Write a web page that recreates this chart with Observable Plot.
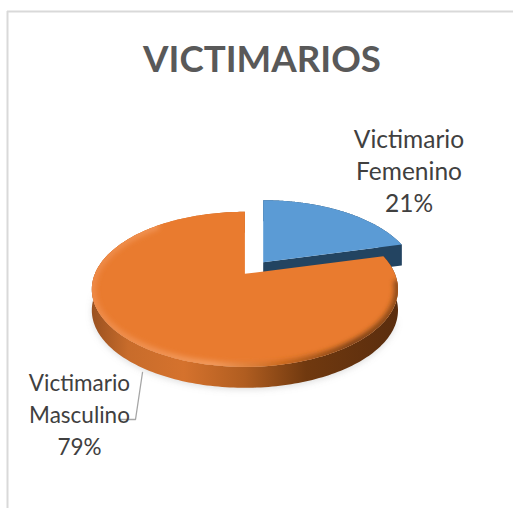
<!DOCTYPE html>
<html><head><meta charset="utf-8">
<script src="https://cdn.jsdelivr.net/npm/d3@7"></script>
<script src="https://cdn.jsdelivr.net/npm/@observablehq/plot@0.6"></script>
<style>html,body{margin:0;padding:0;background:#fff}svg{display:block}</style>
</head><body><script>
const chartTitle = "VICTIMARIOS";
const categories = ["Victimario Femenino", "Victimario Masculino"];
const shares = [21, 79];
const sliceColors = ["#5B9BD5", "#E97B2F"];
const sideColors = ["#234461", "url(#orangeSide)"];

// Perspective view of a flat disc (fractions run clockwise from 12 o'clock)
const radius = 150, squash = 74.4, persp = 0.2, depth = 21;
const apexes = [[262.7, 261.7], [244.4, 273.3]];
const labelAt = [[408.5, 169], [79, 412.5]];
const labelSizes = [24.5, 22.5];
const labelLeading = [1.32, 1.42];
const leader = [[142, 372], [135, 419], [120, 419]];
const frameLeft = 7, frameTop = 11;

function project(frac, apex, r = 1, dy = 0) {
  const t = 2 * Math.PI * frac, u = r * Math.sin(t), v = -r * Math.cos(t), w = 1 - persp * v;
  return [apex[0] + radius * u / w, apex[1] + squash * v / w + dy];
}
const arc = (f0, f1, apex, r = 1, dy = 0) =>
  d3.range(0, 241).map(i => project(f0 + (f1 - f0) * i / 240, apex, r, dy));

const total = d3.sum(shares);
const bounds = [[0, shares[0] / total], [shares[0] / total, 1]];
const faces = bounds.map((b, i) => [apexes[i], ...arc(b[0], b[1], apexes[i])]);
const sides = bounds.map((b, i) => [...arc(b[0], b[1], apexes[i]), ...arc(b[0], b[1], apexes[i], 1, depth).reverse()]);
const blueCut = [apexes[0], project(bounds[0][1], apexes[0]), project(bounds[0][1], apexes[0], 1, depth), [apexes[0][0], apexes[0][1] + depth]];

const defs = () => {
  const s = d3.create("svg:defs");
  const grad = (id, stops) => {
    const g = s.append("linearGradient").attr("id", id);
    stops.forEach(([o, c]) => g.append("stop").attr("offset", o).attr("stop-color", c));
  };
  grad("orangeSide", [[0, "#9A5120"], [0.12, "#C86C2B"], [0.3, "#D5722D"], [0.5, "#B05D20"], [0.7, "#70390F"], [1, "#5A2D0E"]]);
  grad("orangeBevel", [[0, "#EE8A48"], [0.4, "#F29A5C"], [0.62, "#C8691F"], [0.85, "#7A4014"], [1, "#8E4C1A"]]);
  s.append("filter").attr("id", "soft").attr("x", "-10%").attr("y", "-10%").attr("width", "120%").attr("height", "120%")
    .append("feGaussianBlur").attr("stdDeviation", 2.6);
  s.append("filter").attr("id", "shadow").attr("x", "-10%").attr("y", "-20%").attr("width", "120%").attr("height", "140%")
    .append("feGaussianBlur").attr("stdDeviation", 3);
  s.append("clipPath").attr("id", "faceClip").append("polygon")
    .attr("points", faces[1].map(p => p.join(",")).join(" "));
  return s.node();
};
const withAttrs = attrs => (i, sc, v, d, c, next) => {
  const g = next(i, sc, v, d, c);
  for (const k in attrs) g.setAttribute(k, attrs[k]);
  return g;
};
const poly = (pts, options) => Plot.line([...pts, pts[0]], {x: d => d[0], y: d => d[1], stroke: "none", ...options});

const labelMarks = categories.map((c, i) =>
  Plot.text([c.replace(" ", "\n") + "\n" + shares[i] + "%"], {
    x: labelAt[i][0], y: labelAt[i][1], text: d => d,
    fontFamily: "Lato", fontSize: labelSizes[i], lineHeight: labelLeading[i], fill: "#404040"
  }));

const plot = Plot.plot({
  width: 513, height: 508, margin: 0,
  x: {domain: [0, 513], range: [0, 513], axis: null},
  y: {domain: [0, 508], range: [0, 508], axis: null},
  style: {background: "#fff"},
  marks: [
    defs,
    Plot.ruleX([frameLeft], {y1: frameTop, y2: 508, stroke: "#D9D9D9", strokeWidth: 2}),
    Plot.ruleY([frameTop], {x1: frameLeft, x2: 513, stroke: "#D9D9D9", strokeWidth: 2}),
    Plot.text([chartTitle], {x: 261.5, y: 60, text: d => d, fontFamily: "Lato", fontWeight: 700, fontSize: 36.7, fill: "#595959"}),
    poly(arc(0.3, 0.85, apexes[1], 1, depth + 2), {fill: "#999", fillOpacity: 0.3, render: withAttrs({filter: "url(#shadow)"})}),
    // blue slice
    poly(sides[0], {fill: sideColors[0]}),
    poly(blueCut, {fill: sideColors[0]}),
    poly(faces[0], {fill: sliceColors[0]}),
    // orange slice
    poly(sides[1], {fill: sideColors[1]}),
    poly(faces[1], {fill: sliceColors[1]}),
    Plot.line(arc(0.27, 0.88, apexes[1], 1), {
      x: d => d[0], y: d => d[1], stroke: "url(#orangeBevel)", strokeWidth: 8, fill: "none",
      render: withAttrs({filter: "url(#soft)", "clip-path": "url(#faceClip)"})
    }),
    Plot.line(leader, {x: d => d[0], y: d => d[1], stroke: "#A6A6A6", strokeWidth: 1.3}),
    ...labelMarks
  ]
});
document.body.append(plot);
</script></body></html>
